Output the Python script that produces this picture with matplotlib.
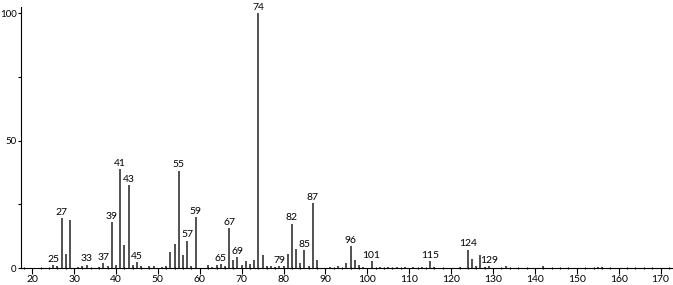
import matplotlib.pyplot as plt
from matplotlib.ticker import MultipleLocator

# m/z and relative intensity
mz = [25, 26, 27, 28, 29, 31, 32, 33, 36, 37, 38, 39, 40, 41, 42, 43, 44, 45, 46, 48, 49, 51, 52,
      53, 54, 55, 56, 57, 58, 59, 62, 63, 64, 65, 66, 67, 68, 69, 70, 71, 72, 73, 74, 75,
      76, 77, 78, 79, 80, 81, 82, 83, 84, 85, 86, 87, 88, 91, 93, 95, 96, 97, 98, 99, 101,
      103, 105, 107, 109, 111, 113, 115, 116, 122, 124, 125, 126, 127, 128, 129, 133, 142, 155, 156]
intensity = [1.2, 0.6, 19.5, 5.6, 18.8, 0.5, 0.7, 1.3, 0.5, 1.8, 0.6, 18.0, 1.0, 38.9, 9.0, 32.6, 1.2, 2.2, 0.6, 0.6, 0.8, 0.5, 0.9,
             6.4, 9.5, 38.2, 5.0, 10.7, 0.6, 20.0, 1.0, 0.5, 1.0, 1.6, 0.6, 15.7, 3.1, 4.3, 1.2, 2.6, 1.5, 3.1, 100.0, 5.0,
             0.8, 0.8, 0.5, 0.8, 0.8, 5.6, 17.4, 7.6, 1.8, 7.0, 0.6, 25.4, 3.0, 0.5, 0.8, 1.8, 8.6, 3.0, 1.0, 0.5, 2.7,
             0.4, 0.4, 0.4, 0.4, 0.4, 0.4, 2.7, 0.5, 0.5, 7.2, 3.7, 0.8, 5.0, 0.5, 0.8, 0.6, 0.7, 0.3, 0.3]
labeled = [25, 27, 33, 37, 39, 41, 43, 45, 55, 57, 59, 65, 67, 69, 74, 79, 82, 85, 87, 96, 101, 115, 124, 129]

plt.rcParams['font.family'] = ['Lato', 'DejaVu Sans']

fig = plt.figure(figsize=(6.73, 2.85), dpi=100)
ax = fig.add_axes([0.031, 0.0596, 0.968, 0.9158])

ax.vlines(mz, 0, intensity, color='#222222', linewidth=1.1)

for m, v in zip(mz, intensity):
    if m in labeled:
        ax.annotate(str(m), (m, v), xytext=(0, 1), textcoords='offset points',
                    ha='center', va='bottom', fontsize=7.5, color='black')

ax.set_xlim(17.3, 172.8)
ax.set_ylim(0, 102.5)

ax.spines['top'].set_visible(False)
ax.spines['right'].set_visible(False)

ax.xaxis.set_major_locator(MultipleLocator(10))
ax.xaxis.set_minor_locator(MultipleLocator(2))
ax.yaxis.set_major_locator(MultipleLocator(50))
ax.yaxis.set_minor_locator(MultipleLocator(25))
ax.tick_params(axis='x', which='major', length=4, width=0.8, pad=1, labelsize=7.5)
ax.tick_params(axis='x', which='minor', length=2, width=0.8, direction='inout')
ax.tick_params(axis='y', which='major', length=2.5, width=0.8, pad=0.5, labelsize=7)
ax.tick_params(axis='y', which='minor', length=2, width=0.8)

fig.savefig('out.png', dpi=100)
